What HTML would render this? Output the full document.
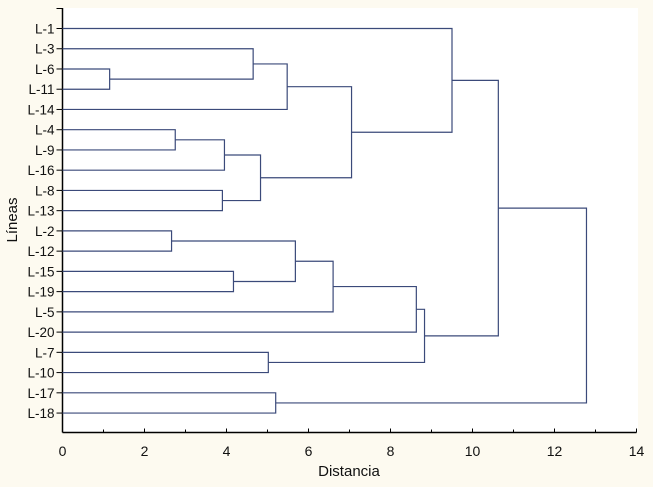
<!DOCTYPE html>
<html><head><meta charset="utf-8"><style>
body{margin:0;background:#fdfaf0;}
svg{display:block;font-family:"Liberation Sans",sans-serif;}
</style></head><body>
<svg id="c" width="653" height="487">
<rect x="0" y="0" width="653" height="487" fill="#fdfaf0"/>
<rect x="63" y="8" width="575" height="424" fill="#ffffff"/>
<g id="g"></g>
</svg>
<script>
const leaves=["L-1","L-3","L-6","L-11","L-14","L-4","L-9","L-16","L-8","L-13","L-2","L-12","L-15","L-19","L-5","L-20","L-7","L-10","L-17","L-18"];
// merges: [childA, childB, distance]; indices < 20 are leaves, >=20 are earlier merges
const mergeA=[2,1,4,5,7,8,24,22,0,10,12,29,14,15,16,33,28,18,36];
const mergeB=[3,20,21,6,23,9,25,26,27,11,13,30,31,32,17,34,35,19,37];
const mergeH=[1.15,4.65,5.48,2.75,3.95,3.9,4.83,7.05,9.5,2.66,4.17,5.68,6.6,8.63,5.02,8.83,10.63,5.2,12.78];
const xTicks=[0,2,4,6,8,10,12,14];
const NS="http://www.w3.org/2000/svg";
const g=document.getElementById('g');
const x0=62.5,xs=41,y0=28.5,ys=20.24,axisY=432.5;
const X=v=>x0+v*xs, Y=i=>y0+i*ys;
function mk(t,a){const e=document.createElementNS(NS,t);for(const k in a)e.setAttribute(k,a[k]);g.appendChild(e);return e;}
let e=mk('line',{x1:x0,y1:8,x2:x0,y2:axisY,stroke:'#000','stroke-width':1.5});


e=mk('line',{x1:x0,y1:axisY,x2:X(14),y2:axisY,stroke:'#000','stroke-width':1.5});


mk('line',{x1:x0-6,y1:8.5,x2:x0,y2:8.5,stroke:'#000'});
xTicks.forEach(v=>{
  const t=mk('line',{x1:X(v),y1:axisY,x2:X(v),y2:axisY-4,stroke:'#000'});
  
  
  if(v<14) mk('line',{x1:X(v+1),y1:axisY,x2:X(v+1),y2:axisY-3,stroke:'#000'});
  const l=mk('text',{x:X(v),y:456,'text-anchor':'middle','font-size':14,fill:'#111'});
  l.textContent=v;
  
  
});
leaves.forEach((n,i)=>{
  mk('line',{x1:x0-6,y1:Y(i),x2:x0,y2:Y(i),stroke:'#000'});
  const l=mk('text',{x:x0-8,y:Y(i)+5,'text-anchor':'end','font-size':13.5,fill:'#111'});
  l.textContent=n;
  
  
});
const pos=leaves.map((_,i)=>Y(i)), hgt=leaves.map(()=>0);
mergeA.forEach((a,k)=>{
  const b=mergeB[k],h=mergeH[k];
  const ya=pos[a],yb=pos[b];
  const p=mk('path',{d:`M${X(hgt[a])},${ya}H${X(h)}V${yb}H${X(hgt[b])}`,fill:'none',stroke:'#3b4a7a','stroke-width':1.2});
  
  
  pos.push((ya+yb)/2);hgt.push(h);
});
let t=mk('text',{x:349,y:476,'text-anchor':'middle','font-size':15,fill:'#111'});t.textContent='Distancia';


t=mk('text',{x:17,y:220,'text-anchor':'middle','font-size':15,fill:'#111',transform:'rotate(-90 17 220)'});t.textContent='Líneas';


</script>
</body></html>
